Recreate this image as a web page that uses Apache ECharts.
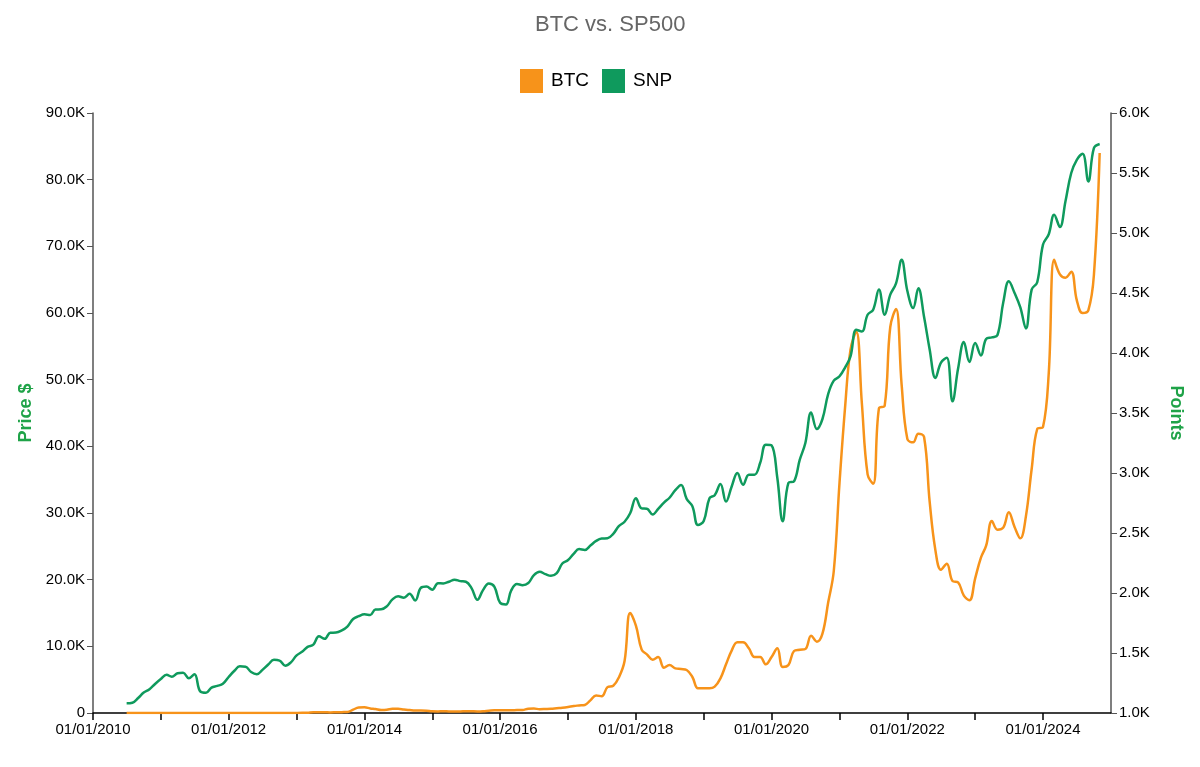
<!DOCTYPE html>
<html>
<head>
<meta charset="utf-8">
<title>BTC vs. SP500</title>
<script src="https://cdn.jsdelivr.net/npm/echarts@6.0.0/dist/echarts.min.js"></script>
<style>
  html, body { margin: 0; padding: 0; background: #fff; }
  #chart { width: 1200px; height: 767px; }
</style>
</head>
<body>
<div id="chart"></div>
<script>
// monthly points, dated on the 1st of each month
const months = [
  '2010-07','2010-08','2010-09','2010-10','2010-11','2010-12',
  '2011-01','2011-02','2011-03','2011-04','2011-05','2011-06','2011-07','2011-08','2011-09','2011-10','2011-11','2011-12',
  '2012-01','2012-02','2012-03','2012-04','2012-05','2012-06','2012-07','2012-08','2012-09','2012-10','2012-11','2012-12',
  '2013-01','2013-02','2013-03','2013-04','2013-05','2013-06','2013-07','2013-08','2013-09','2013-10','2013-11','2013-12',
  '2014-01','2014-02','2014-03','2014-04','2014-05','2014-06','2014-07','2014-08','2014-09','2014-10','2014-11','2014-12',
  '2015-01','2015-02','2015-03','2015-04','2015-05','2015-06','2015-07','2015-08','2015-09','2015-10','2015-11','2015-12',
  '2016-01','2016-02','2016-03','2016-04','2016-05','2016-06','2016-07','2016-08','2016-09','2016-10','2016-11','2016-12',
  '2017-01','2017-02','2017-03','2017-04','2017-05','2017-06','2017-07','2017-08','2017-09','2017-10','2017-11','2017-12',
  '2018-01','2018-02','2018-03','2018-04','2018-05','2018-06','2018-07','2018-08','2018-09','2018-10','2018-11','2018-12',
  '2019-01','2019-02','2019-03','2019-04','2019-05','2019-06','2019-07','2019-08','2019-09','2019-10','2019-11','2019-12',
  '2020-01','2020-02','2020-03','2020-04','2020-05','2020-06','2020-07','2020-08','2020-09','2020-10','2020-11','2020-12',
  '2021-01','2021-02','2021-03','2021-04','2021-05','2021-06','2021-07','2021-08','2021-09','2021-10','2021-11','2021-12',
  '2022-01','2022-02','2022-03','2022-04','2022-05','2022-06','2022-07','2022-08','2022-09','2022-10','2022-11','2022-12',
  '2023-01','2023-02','2023-03','2023-04','2023-05','2023-06','2023-07','2023-08','2023-09','2023-10','2023-11','2023-12',
  '2024-01','2024-02','2024-03','2024-04','2024-05','2024-06','2024-07','2024-08','2024-09','2024-10','2024-11'
];

// BTC price in $
const btc = [
  0.07, 0.07, 0.06, 0.11, 0.26, 0.24,
  0.4, 0.9, 0.9, 1.4, 6.5, 18, 14, 10, 5.8, 3.4, 2.6, 3.3,
  6.2, 5.2, 4.9, 5, 5, 6, 8.2, 11, 11.6, 11.6, 11.2, 13.4,
  15, 25, 55, 125, 115, 108, 84, 107, 130, 150, 500, 820,
  850, 690, 600, 460, 490, 620, 620, 530, 440, 370, 370, 340,
  250, 235, 270, 235, 237, 237, 280, 255, 235, 265, 350, 420,
  410, 405, 415, 435, 460, 640, 660, 580, 605, 640, 725, 800,
  915, 1060, 1130, 1210, 1900, 2640, 2500, 3880, 4090, 5320, 7800, 15000,
  13100, 9500, 8800, 8000, 8400, 6800, 7200, 6700, 6600, 6450, 5400, 3700,
  3700, 3700, 3950, 5200, 7300, 9400, 10600, 10600, 9700, 8400, 8400, 7300,
  8400, 9700, 6900, 7200, 9300, 9500, 9600, 11600, 10700, 11900, 16600, 21300,
  34600, 46300, 54500, 57200, 46500, 35800, 34400, 45700, 46100, 57900, 60600, 49300,
  41100, 40600, 41900, 41400, 31700, 24400, 21500, 22400, 19800, 19600, 17600, 16900,
  20200, 23300, 25100, 28800, 27500, 27800, 30100, 27900, 26200, 29500, 36600, 42600,
  42900, 51000, 68000, 65800, 65300, 66200, 61900, 60000, 60400, 65700, 84000
];

// S&P 500 in points
const snp = [
  1081, 1086, 1125, 1170, 1198, 1242,
  1283, 1318, 1302, 1331, 1336, 1289, 1322, 1180, 1169, 1212, 1226, 1243,
  1300, 1352, 1389, 1386, 1341, 1323, 1359, 1404, 1443, 1437, 1394, 1422,
  1480, 1512, 1551, 1570, 1639, 1618, 1669, 1670, 1688, 1720, 1783, 1807,
  1822, 1817, 1863, 1864, 1889, 1947, 1973, 1961, 1993, 1937, 2044, 2054,
  2028, 2082, 2080, 2094, 2111, 2099, 2094, 2039, 1944, 2024, 2080, 2054,
  1918, 1904, 2022, 2075, 2065, 2083, 2149, 2177, 2157, 2143, 2165, 2246,
  2275, 2329, 2366, 2359, 2395, 2434, 2454, 2456, 2493, 2557, 2594, 2664,
  2790, 2705, 2702, 2654, 2701, 2754, 2794, 2857, 2901, 2785, 2723, 2567,
  2600, 2790, 2815, 2908, 2762, 2890, 3000, 2903, 2986, 2986, 3085, 3236,
  3230, 2960, 2597, 2917, 2931, 3111, 3250, 3505, 3367, 3450, 3660, 3770,
  3806, 3883, 3972, 4194, 4180, 4319, 4361, 4530, 4319, 4486, 4580, 4777,
  4516, 4374, 4540, 4300, 4030, 3792, 3920, 3960, 3597, 3870, 4092, 3925,
  4083, 3980, 4117, 4130, 4150, 4420, 4597, 4500, 4380, 4205, 4528, 4590,
  4903, 4990, 5152, 5050, 5265, 5500, 5610, 5660, 5430, 5708, 5742
];

const btcColor = '#f7931a';
const snpColor = '#0f9a5d';
const nameColor = '#1fa348';

const chart = echarts.init(document.getElementById('chart'));

function kFormat(v) {
    if (v === 0) return '0';
    return (v / 1000).toFixed(1) + 'K';
}

function toPairs(values) {
    return months.map((m, i) => [m + '-01', values[i]]);
}

const yearMs = 365 * 24 * 3600 * 1000;

const option = {
    animation: false,
    textStyle: { fontFamily: 'Liberation Sans, Arial, sans-serif' },
    title: {
        text: 'BTC vs. SP500',
        left: 535,
        top: 14,
        padding: 0,
        textStyle: { color: '#666', fontSize: 22, fontWeight: 'normal' }
    },
    legend: {
        data: ['BTC', 'SNP'],
        top: 69,
        left: 520,
        padding: 0,
        icon: 'rect',
        itemWidth: 23,
        itemHeight: 24,
        itemGap: 13,
        textStyle: { color: '#000', fontSize: 19, padding: [0, 0, 0, 3] }
    },
    grid: { left: 93, right: 89, top: 113, bottom: 54 },
    xAxis: {
        type: 'time',
        min: '2010-01-01',
        max: '2025-01-01',
        minInterval: yearMs,
        maxInterval: yearMs + 24 * 3600 * 1000,
        splitLine: { show: false },
        axisLine: { lineStyle: { color: '#000', width: 1.5 } },
        axisTick: { show: true, length: 7, lineStyle: { color: '#000', width: 1.5 } },
        axisLabel: {
            color: '#000',
            fontSize: 15,
            margin: 9,
            formatter: function (value) {
                const d = new Date(value);
                if (d.getMonth() !== 0 || d.getDate() !== 1) return '';
                const y = d.getFullYear();
                return y % 2 === 0 ? '01/01/' + y : '';
            }
        }
    },
    yAxis: [
        {
            type: 'value',
            position: 'left',
            min: 0,
            max: 90000,
            interval: 10000,
            name: 'Price $',
            nameLocation: 'middle',
            nameGap: 56,
            nameRotate: 90,
            nameTextStyle: { color: nameColor, fontSize: 18, fontWeight: 'bold' },
            splitLine: { show: false },
            axisLine: { show: true, lineStyle: { color: '#555', width: 1.5 } },
            axisTick: { show: true, length: 6, lineStyle: { color: '#555' } },
            axisLabel: { color: '#000', fontSize: 15, margin: 8, formatter: kFormat }
        },
        {
            type: 'value',
            position: 'right',
            min: 1000,
            max: 6000,
            interval: 500,
            name: 'Points',
            nameLocation: 'middle',
            nameGap: 56,
            nameRotate: -90,
            nameTextStyle: { color: nameColor, fontSize: 18, fontWeight: 'bold' },
            splitLine: { show: false },
            axisLine: { show: true, lineStyle: { color: '#555', width: 1.5 } },
            axisTick: { show: true, length: 6, lineStyle: { color: '#555' } },
            axisLabel: { color: '#000', fontSize: 15, margin: 8, formatter: kFormat }
        }
    ],
    series: [
        {
            name: 'BTC',
            type: 'line',
            yAxisIndex: 0,
            data: toPairs(btc),
            smooth: 0.4,
            showSymbol: false,
            color: btcColor,
            lineStyle: { color: btcColor, width: 2.5 }
        },
        {
            name: 'SNP',
            type: 'line',
            yAxisIndex: 1,
            data: toPairs(snp),
            smooth: 0.4,
            showSymbol: false,
            color: snpColor,
            lineStyle: { color: snpColor, width: 2.5 }
        }
    ]
};

chart.setOption(option);
</script>
</body>
</html>
